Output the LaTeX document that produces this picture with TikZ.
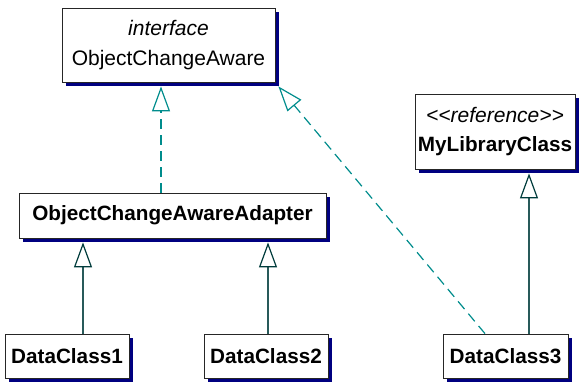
\documentclass[tikz,border=0pt]{standalone}
\usepackage{fontspec}
\setmainfont{Liberation Sans}
\usetikzlibrary{arrows.meta,shadows,calc}
\definecolor{shade}{RGB}{0,0,128}
\definecolor{solidline}{RGB}{40,90,90}
\definecolor{dashline}{RGB}{0,140,140}
\definecolor{solidtip}{RGB}{0,60,60}
\begin{document}
\begin{tikzpicture}[x=1pt,y=-1pt,
  cls/.style={draw=black!85, line width=0.8pt, fill=white, inner sep=0pt,
    align=center, font=\fontsize{21}{29.5}\selectfont,
    drop shadow={shadow xshift=4pt, shadow yshift=-4pt, fill=shade, opacity=1}},
  plain/.style={cls, font=\fontsize{20.7}{24}\selectfont\bfseries},
  generalize/.style={draw=solidline, line width=1.2pt,
    -{Triangle[color=solidtip, open, length=25pt, width=18pt, line width=1.2pt]}},
  realize/.style={draw=dashline, line width=1.2pt, dash pattern=on 10pt off 6pt,
    -{Triangle[color=dashline, open, length=25pt, width=18pt, line width=1.2pt]}}]
\useasboundingbox (0,0) rectangle (580,384);

% classes
\node[cls, minimum width=213pt, minimum height=74pt] (oca) at (168.5,45)
  {\textit{interface}\\ObjectChangeAware};
\node[cls, minimum width=160pt, minimum height=75pt] (mlc) at (495,131.5)
  {\textit{<{}<reference>{}>}\\\fontsize{20.7}{24}\selectfont\textbf{MyLibraryClass}};
\node[plain, minimum width=307pt, minimum height=45pt] (adp) at (172.5,215.5)
  {ObjectChangeAwareAdapter};
\node[plain, minimum width=124pt, minimum height=44pt] (dc1) at (67,356) {DataClass1};
\node[plain, minimum width=124pt, minimum height=44pt] (dc2) at (266,356) {DataClass2};
\node[plain, minimum width=125pt, minimum height=44pt] (dc3) at (505.5,356) {DataClass3};

% generalizations
\draw[generalize] ($(dc1.north)+(16,0)$) -- ($(dc1.north |- adp.south)+(16,4)$);
\draw[generalize] ($(dc2.north)+(2,0)$) -- ($(dc2.north |- adp.south)+(2,4)$);
\draw[generalize] ($(dc3.north)+(23.5,0)$) -- ($(dc3.north |- mlc.south)+(23.5,4)$);

% realizations
\draw[realize] ($(adp.north)+(-11.5,0)$) -- ($(adp.north |- oca.south)+(-11.5,4)$);
\draw[realize] ($(dc3.north)+(-20.5,0)$) -- ($(oca.south east)+(3,4)$);
\end{tikzpicture}
\end{document}
